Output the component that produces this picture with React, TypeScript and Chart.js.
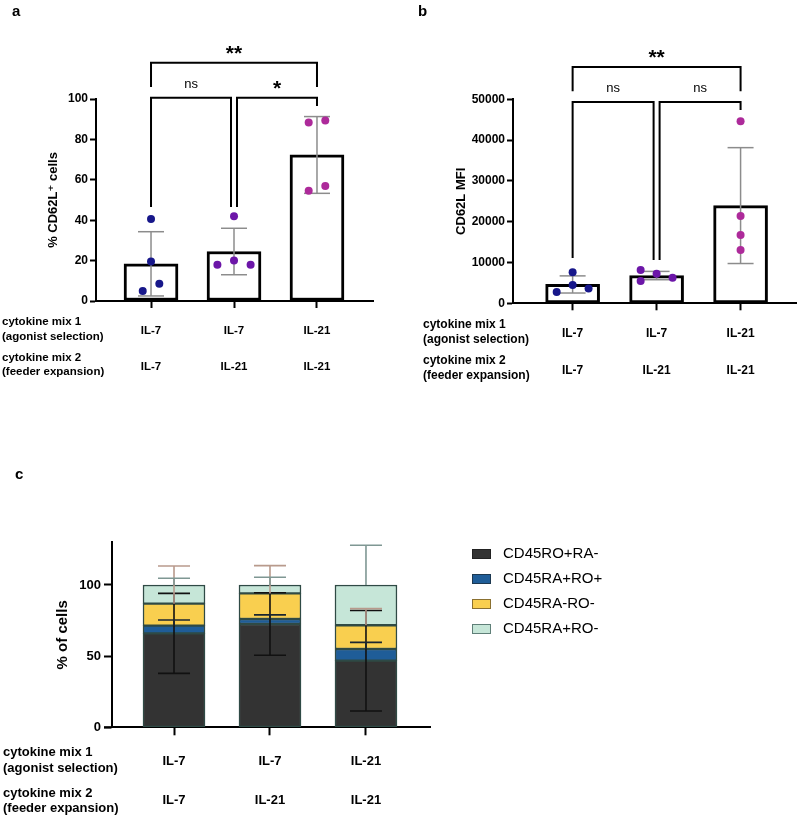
import React, { useEffect, useRef } from "react";
import { Chart, registerables } from "chart.js";
Chart.register(...registerables);

const FONT = "'Liberation Sans', Arial, 'DejaVu Sans', sans-serif";
Chart.defaults.font.family = FONT;
Chart.defaults.color = "#000";

// ---------- shared labels ----------
const mix1Labels = ["IL-7", "IL-7", "IL-21"];
const mix2Labels = ["IL-7", "IL-21", "IL-21"];
const rowLabels = ["cytokine mix 1", "(agonist selection)", "cytokine mix 2", "(feeder expansion)"];
const pointColors = ["#17178a", "#6c16a8", "#ad2a9a"];

// ---------- panel a ----------
const aMeans = [18.4, 24.5, 72.3];
const aSD = [15.9, 11.5, 19.0];
const aPoints = [
  [40.6, 19.5, 8.6, 5.0],
  [41.9, 18.0, 20.1, 18.0],
  [88.4, 89.3, 54.6, 56.9],
];
const aJitter = [
  [0, 0, 0.1, -0.1],
  [0, -0.2, 0, 0.2],
  [-0.1, 0.1, -0.1, 0.1],
];
const aSigLabels = ["ns", "*", "**"];

// ---------- panel b ----------
const bMeans = [4620, 6800, 23950];
const bSD = [2100, 1020, 14200];
const bPoints = [
  [7600, 4500, 3600, 2780],
  [8170, 7270, 6290, 5470],
  [44600, 21400, 16750, 13070],
];
const bJitter = [
  [0, 0, 0.19, -0.19],
  [-0.19, 0, 0.19, -0.19],
  [0, 0, 0, 0],
];
const bSigLabels = ["ns", "ns", "**"];

// ---------- panel c ----------
const cSeries = ["CD45RO+RA-", "CD45RA+RO+", "CD45RA-RO-", "CD45RA+RO-"];
const cDark = [66.0, 72.6, 46.8];
const cBlue = [5.4, 3.5, 8.2];
const cYellow = [15.5, 18.0, 16.7];
const cGreen = [13.1, 5.9, 28.3];
const cDarkSD = [28.1, 22.0, 35.3];
const cBlueSD = [4.0, 2.9, 4.7];
const cYellowSD = [26.4, 19.5, 11.7];
const cGreenSD = [4.7, 5.4, 27.9];
const cFills = ["#333333", "#1f5d98", "#f9cf4f", "#c6e6d8"];
const cEdge = ["#222222", "#1c3850", "#8a7030", "#5f7f78"];
const cErrColors = ["#111111", "#1a2630", "#b89a8c", "#7f9793"];

type Bracket = { from: number; to: number; d1: number; d2: number; top: number; leg1: number; leg2: number };

function line(ctx: CanvasRenderingContext2D, pts: number[][]) {
  ctx.beginPath();
  ctx.moveTo(pts[0][0], pts[0][1]);
  for (let i = 1; i < pts.length; i++) ctx.lineTo(pts[i][0], pts[i][1]);
  ctx.stroke();
}

function text(ctx: CanvasRenderingContext2D, s: string, x: number, y: number, font: string, align: CanvasTextAlign = "center", baseline: CanvasTextBaseline = "middle", color = "#000") {
  ctx.font = font;
  ctx.textAlign = align;
  ctx.textBaseline = baseline;
  ctx.fillStyle = color;
  ctx.fillText(s, x, y);
}

function dotBarChart(canvas: HTMLCanvasElement, o: any) {
  const scatterData: any[] = [];
  const scatterColors: string[] = [];
  o.points.forEach((grp: number[], i: number) => {
    grp.forEach((v, k) => {
      scatterData.push({ x: i + o.jitter[i][k], y: v });
      scatterColors.push(pointColors[i]);
    });
  });
  const plugin = {
    id: "extras",
    afterDatasetDraw(chart: any, args: any) {
      if (args.index !== 0) return;
      const { ctx } = chart;
      const x = chart.scales.x, y = chart.scales.y;
      ctx.save();
      ctx.strokeStyle = "#8c8c8c";
      ctx.lineWidth = 1.5;
      o.means.forEach((m: number, i: number) => {
        const cx = x.getPixelForValue(i);
        const t = y.getPixelForValue(m + o.sd[i]);
        const b = y.getPixelForValue(Math.max(0, m - o.sd[i]));
        line(ctx, [[cx, t], [cx, b]]);
        line(ctx, [[cx - 13, t], [cx + 13, t]]);
        line(ctx, [[cx - 13, b], [cx + 13, b]]);
      });
      ctx.restore();
    },
    afterDraw(chart: any) {
      const { ctx } = chart;
      const x = chart.scales.x, y = chart.scales.y;
      ctx.save();
      ctx.strokeStyle = "#000";
      ctx.lineWidth = 2;
      o.brackets.forEach((br: Bracket, k: number) => {
        const x1 = x.getPixelForValue(br.from) + br.d1;
        const x2 = x.getPixelForValue(br.to) + br.d2;
        const yt = y.getPixelForValue(br.top);
        line(ctx, [[x1, y.getPixelForValue(br.leg1)], [x1, yt], [x2, yt], [x2, y.getPixelForValue(br.leg2)]]);
        const lab = o.sig[k];
        if (lab === "ns") text(ctx, lab, (x1 + x2) / 2, yt - 10, "13px " + FONT, "center", "alphabetic");
        else text(ctx, lab, (x1 + x2) / 2, yt - 3, "bold 21px " + FONT, "center", "alphabetic");
      });
      rowLabels.forEach((s, i) => text(ctx, s, o.rowX, o.rowYs[i], o.rowFont, "left", "middle"));
      text(ctx, o.letter, o.letterX, 12, "bold 15px " + FONT, "left", "middle");
      ctx.restore();
    },
  };
  return new Chart(canvas, {
    type: "bar",
    data: {
      datasets: [
        {
          type: "bar",
          data: o.means.map((m: number, i: number) => ({ x: i, y: m })),
          backgroundColor: "#ffffff",
          borderColor: "#000000",
          borderWidth: 3,
          borderSkipped: false,
          barThickness: o.barW,
          grouped: false,
          order: 2,
        } as any,
        {
          type: "scatter",
          data: scatterData,
          backgroundColor: scatterColors,
          borderWidth: 0,
          pointRadius: 4,
          order: 0,
        } as any,
      ],
    },
    options: {
      responsive: false,
      animation: false,
      events: [],
      layout: { padding: { left: o.padLeft, top: o.padTop, right: o.padRight, bottom: 0 } },
      plugins: { legend: { display: false }, tooltip: { enabled: false } },
      scales: {
        x: {
          type: "linear",
          offset: false,
          min: o.xMin,
          max: o.xMax,
          afterBuildTicks: (s: any) => { s.ticks = [0, 1, 2].map((v) => ({ value: v })); },
          afterFit: (s: any) => { s.height = o.xHeight; },
          ticks: {
            callback: (_v: any, i: number) => [mix1Labels[i], "", mix2Labels[i]],
            font: { size: o.tickX, weight: "bold", lineHeight: 1.55 },
            color: "#000",
            padding: o.xPad,
            maxRotation: 0,
          },
          grid: { offset: false, drawOnChartArea: false, drawTicks: true, tickLength: 7, tickWidth: 2, tickColor: "#000" },
          border: { display: true, color: "#000", width: 2 },
        },
        y: {
          min: 0,
          max: o.yMax,
          ticks: { stepSize: o.yStep, font: { size: 12, weight: "bold" }, color: "#000", padding: 2, callback: (v: any) => String(v) },
          afterFit: (s: any) => { s.width = o.yWidth; },
          grid: { drawOnChartArea: false, drawTicks: true, tickLength: 6, tickWidth: 2, tickColor: "#000" },
          border: { display: true, color: "#000", width: 2 },
          title: { display: true, text: o.yTitle, font: { size: 13, weight: "bold" }, color: "#000", padding: { top: 6, bottom: 0 } },
        },
      },
    } as any,
    plugins: [plugin as any],
  });
}

function stackChart(canvas: HTMLCanvasElement) {
  const stacks = [cDark, cBlue, cYellow, cGreen];
  const sds = [cDarkSD, cBlueSD, cYellowSD, cGreenSD];
  const plugin = {
    id: "cextras",
    afterDatasetsDraw(chart: any) {
      const { ctx } = chart;
      const x = chart.scales.x, y = chart.scales.y;
      ctx.save();
      ctx.lineWidth = 1.6;
      for (let i = 0; i < 3; i++) {
        const cx = x.getPixelForValue(i);
        let cum = 0;
        stacks.forEach((vals, k) => {
          cum += vals[i];
          const t = y.getPixelForValue(cum + sds[k][i]);
          const b = k === 0 ? y.getPixelForValue(cum - sds[k][i]) : y.getPixelForValue(cum);
          ctx.strokeStyle = cErrColors[k];
          line(ctx, [[cx, t], [cx, b]]);
          line(ctx, [[cx - 16, t], [cx + 16, t]]);
          if (k === 0) line(ctx, [[cx - 16, b], [cx + 16, b]]);
        });
      }
      // x-axis line extends left of the y axis, as in the original
      ctx.strokeStyle = "#000";
      ctx.lineWidth = 2;
      const yb = y.getPixelForValue(0);
      line(ctx, [[chart.chartArea.left - 8, yb], [chart.chartArea.left, yb]]);
      ctx.restore();
    },
    afterDraw(chart: any) {
      const { ctx } = chart;
      ctx.save();
      cSeries.forEach((s, k) => {
        const ry = 154 + k * 25;
        ctx.fillStyle = cFills[k];
        ctx.fillRect(472, ry - 5, 19, 10);
        ctx.strokeStyle = cEdge[k];
        ctx.lineWidth = 1;
        ctx.strokeRect(472.5, ry - 4.5, 18, 9);
        text(ctx, s, 503, ry, "15px " + FONT, "left", "middle");
      });
      const rys = [352, 368, 393, 408];
      rowLabels.forEach((s, i) => text(ctx, s, 3, rys[i], "bold 13px " + FONT, "left", "middle"));
      text(ctx, "c", 15, 75, "bold 15px " + FONT, "left", "middle");
      ctx.restore();
    },
  };
  return new Chart(canvas, {
    type: "bar",
    data: {
      datasets: stacks.map((vals, k) => ({
        label: cSeries[k],
        data: vals.map((v, i) => ({ x: i, y: v })),
        backgroundColor: cFills[k],
        borderColor: "#2f4a45",
        borderWidth: 1.5,
        borderSkipped: false,
        barThickness: 62,
        grouped: false,
      })) as any,
    },
    options: {
      responsive: false,
      animation: false,
      events: [],
      layout: { padding: { left: 48, top: 142.3, right: 370, bottom: 0 } },
      plugins: { legend: { display: false }, tooltip: { enabled: false } },
      scales: {
        x: {
          type: "linear",
          offset: false,
          min: -0.646,
          max: 2.667,
          afterBuildTicks: (s: any) => { s.ticks = [0, 1, 2].map((v) => ({ value: v })); },
          afterFit: (s: any) => { s.height = 91.7; },
          ticks: {
            callback: (_v: any, i: number) => [mix1Labels[i], "", mix2Labels[i]],
            font: { size: 13, weight: "bold", lineHeight: 1.5 },
            color: "#000",
            padding: 16,
            maxRotation: 0,
          },
          grid: { offset: false, drawOnChartArea: false, drawTicks: true, tickLength: 8, tickWidth: 2, tickColor: "#000" },
          border: { display: true, color: "#000", width: 2 },
        },
        y: {
          stacked: true,
          min: 0,
          max: 130,
          afterBuildTicks: (s: any) => { s.ticks = [0, 50, 100].map((v) => ({ value: v })); },
          afterFit: (s: any) => { s.width = 64; },
          ticks: { font: { size: 13, weight: "bold" }, color: "#000", padding: 3 },
          grid: { drawOnChartArea: false, drawTicks: true, tickLength: 8, tickWidth: 2, tickColor: "#000" },
          border: { display: true, color: "#000", width: 2 },
          title: { display: true, text: "% of cells", font: { size: 15, weight: "bold" }, color: "#000", padding: { top: 6, bottom: 0 } },
        },
      },
    } as any,
    plugins: [plugin as any],
  });
}

export default function App() {
  const aRef = useRef<HTMLCanvasElement>(null);
  const bRef = useRef<HTMLCanvasElement>(null);
  const cRef = useRef<HTMLCanvasElement>(null);
  useEffect(() => {
    const ca = dotBarChart(aRef.current!, {
      means: aMeans, sd: aSD, points: aPoints, jitter: aJitter, sig: aSigLabels,
      yMax: 100, yStep: 20, yTitle: "% CD62L\u207A cells",
      xMin: -0.663, xMax: 2.675, barW: 54,
      padLeft: 40, yWidth: 56, padTop: 99, padRight: 27, xHeight: 109,
      tickX: 11.5, xPad: 14, rowFont: "bold 11.5px " + FONT, rowX: 2, rowYs: [322, 337, 358, 372],
      letter: "a", letterX: 12,
      brackets: [
        { from: 0, to: 1, d1: 0, d2: -3, top: 100.6, leg1: 46.5, leg2: 46.5 },
        { from: 1, to: 2, d1: 3, d2: 0, top: 100.6, leg1: 46.5, leg2: 96.5 },
        { from: 0, to: 2, d1: 0, d2: 0, top: 118, leg1: 106, leg2: 106 },
      ],
    });
    const cb = dotBarChart(bRef.current!, {
      means: bMeans, sd: bSD, points: bPoints, jitter: bJitter, sig: bSigLabels,
      yMax: 50000, yStep: 10000, yTitle: "CD62L MFI",
      xMin: -0.71, xMax: 2.66, barW: 54,
      padLeft: 48, yWidth: 65, padTop: 99.3, padRight: 2, xHeight: 106.7,
      tickX: 12, xPad: 14, rowFont: "bold 12px " + FONT, rowX: 23, rowYs: [325, 340, 361, 376],
      letter: "b", letterX: 18,
      brackets: [
        { from: 0, to: 1, d1: 0, d2: -3, top: 49340, leg1: 11100, leg2: 10600 },
        { from: 1, to: 2, d1: 3, d2: 0, top: 49340, leg1: 10600, leg2: 47400 },
        { from: 0, to: 2, d1: 0, d2: 0, top: 57900, leg1: 52000, leg2: 52000 },
      ],
    });
    const cc = stackChart(cRef.current!);
    return () => { ca.destroy(); cb.destroy(); cc.destroy(); };
  }, []);
  return (
    <div style={{ position: "absolute", left: 0, top: 0, width: 800, height: 819, background: "#fff" }}>
      <canvas ref={aRef} width={400} height={410} style={{ position: "absolute", left: 0, top: 0 }} />
      <canvas ref={bRef} width={400} height={410} style={{ position: "absolute", left: 400, top: 0 }} />
      <canvas ref={cRef} width={800} height={419} style={{ position: "absolute", left: 0, top: 400 }} />
    </div>
  );
}
